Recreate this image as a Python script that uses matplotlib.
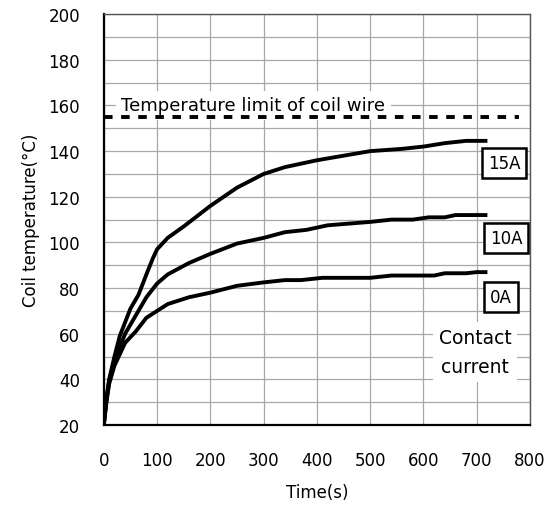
import matplotlib
matplotlib.use("Agg")
import matplotlib.pyplot as plt

# data
t_15a = [0, 5, 10, 20, 30, 50, 65, 80, 92, 100, 120, 150, 200, 250, 300, 340, 400, 450, 500, 560, 600, 640, 680, 720]
y_15a = [20, 32, 40, 50, 59, 71, 77, 86, 93, 97, 102, 107, 116, 124, 130, 133, 136, 138, 140, 141, 142, 143.5, 144.5, 144.5]
t_10a = [0, 5, 10, 20, 40, 60, 80, 100, 120, 160, 200, 250, 300, 340, 380, 420, 500, 540, 580, 610, 640, 660, 720]
y_10a = [20, 31, 39, 48, 60, 68, 76, 82, 86, 91, 95, 99.5, 102, 104.5, 105.5, 107.5, 109, 110, 110, 111, 111, 112, 112]
t_0a = [0, 5, 10, 20, 40, 60, 80, 100, 120, 160, 200, 250, 300, 340, 370, 410, 500, 540, 620, 640, 680, 700, 720]
y_0a = [20, 30, 38, 46, 56, 61, 67, 70, 73, 76, 78, 81, 82.5, 83.5, 83.5, 84.5, 84.5, 85.5, 85.5, 86.5, 86.5, 87, 87]
limit = 155
series_labels = ["15A", "10A", "0A"]
label_pos = [(751, 135), (755, 102), (745, 76)]

fig = plt.figure(figsize=(5.55, 5.06), dpi=100)
ax = fig.add_axes([0.187, 0.158, 0.768, 0.812])

ax.set_xlim(0, 800)
ax.set_ylim(20, 200)
ax.set_xticks(range(0, 801, 100))
ax.set_yticks(range(20, 201, 20))
ax.set_yticks(range(30, 200, 20), minor=True)
ax.grid(True, which="both", color="#a8a8a8", lw=0.9)
ax.set_axisbelow(True)
ax.tick_params(length=0, labelsize=12)
ax.tick_params(axis="y", pad=17)
ax.tick_params(axis="x", pad=19)
ax.tick_params(which="minor", length=0)

for side in ["left", "bottom"]:
    ax.spines[side].set_color("black")
    ax.spines[side].set_linewidth(1.6)
for side in ["top", "right"]:
    ax.spines[side].set_color("#555555")
    ax.spines[side].set_linewidth(1.0)

ax.plot([0, 780], [limit, limit], color="black", lw=2.8, ls=(0, (2.2, 2.2)), zorder=4)
ax.text(33, 160, "Temperature limit of coil wire", fontsize=13, va="center", ha="left",
        bbox=dict(facecolor="white", edgecolor="none", pad=4), zorder=3)

for t, y in [(t_15a, y_15a), (t_10a, y_10a), (t_0a, y_0a)]:
    ax.plot(t, y, color="black", lw=2.8, solid_capstyle="butt", solid_joinstyle="round", zorder=5)

for lab, (x, y) in zip(series_labels, label_pos):
    ax.text(x, y, lab, fontsize=12, ha="center", va="center", zorder=6,
            bbox=dict(facecolor="white", edgecolor="black", lw=1.8, pad=4.3))

ax.text(697, 52, "Contact\ncurrent", fontsize=13.5, ha="center", va="center", linespacing=1.7,
        bbox=dict(facecolor="white", edgecolor="none", pad=4), zorder=3)

ax.set_xlabel("Time(s)", fontsize=12, labelpad=10)
ax.set_ylabel("Coil temperature(°C)", fontsize=12, labelpad=6)

fig.savefig("out.png", dpi=100)
